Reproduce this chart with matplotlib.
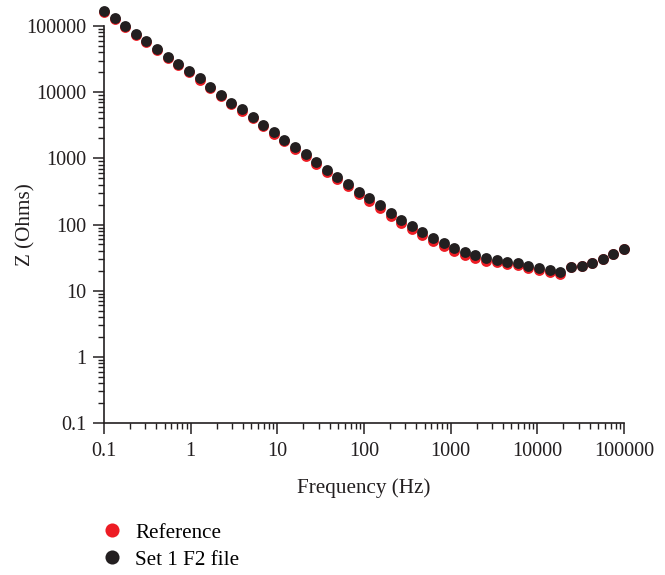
import matplotlib
matplotlib.use("Agg")
import matplotlib.pyplot as plt
from matplotlib.ticker import LogLocator, FuncFormatter, NullFormatter

plt.rcParams['font.family'] = ['Liberation Serif', 'DejaVu Serif']

frequency = [0.1, 0.1326, 0.1758, 0.2330, 0.3089, 0.4095, 0.5429, 0.7197, 0.9541,
             1.265, 1.677, 2.223, 2.947, 3.907, 5.179, 6.866, 9.103,
             12.07, 16.00, 21.21, 28.12, 37.28, 49.42, 65.51, 86.85,
             115.1, 152.6, 202.4, 268.3, 355.7, 471.5, 625.1, 828.7,
             1099, 1456, 1931, 2560, 3393, 4498, 5964, 7906,
             10481, 13895, 18421, 24421, 32375, 42919, 56899, 75431, 100000]

z_set1 = [168500, 130700, 100000, 76500, 58700, 44900, 34400, 26400, 20700,
          16500, 12100, 9160, 6930, 5510, 4260, 3225, 2500,
          1913, 1469, 1151, 881, 674, 528, 405, 314,
          249.5, 195.6, 151.2, 118.5, 96.2, 78.0, 63.4, 53.2,
          44.3, 38.9, 34.3, 30.7, 29.2, 27.5, 26.0, 23.7,
          22.3, 20.6, 19.4, 23.1, 23.9, 26.5, 30.2, 35.9, 42.7]

z_reference = [162800, 126300, 96600, 73900, 56700, 43400, 33200, 25500, 20000,
               15230, 11410, 8640, 6535, 5195, 4017, 3041, 2358,
               1804, 1371, 1074, 822, 629, 493, 378, 293,
               224.8, 176.2, 136.2, 106.8, 86.7, 70.3, 57.1, 47.9,
               39.9, 35.0, 30.9, 27.7, 27.2, 25.7, 24.3, 22.1,
               20.8, 19.2, 18.1, 22.7, 23.5, 26.0, 29.7, 35.3, 42.0]

series_labels = ["Reference", "Set 1 F2 file"]
series_colors = ["#ed1c24", "#231f20"]

fig = plt.figure(figsize=(6.65, 5.75), dpi=100)
ax = fig.add_axes([104/665, 1-423/575, 520/665, 397/575])

ax.plot(frequency, z_reference, 'o', ls='none', color=series_colors[0],
        markersize=7.8, markeredgewidth=0, clip_on=False, zorder=3,
        label=series_labels[0])
ax.plot(frequency, z_set1, 'o', ls='none', color=series_colors[1],
        markersize=7.8, markeredgewidth=0, clip_on=False, zorder=4,
        label=series_labels[1])

ax.set_xscale('log')
ax.set_yscale('log')
ax.set_xlim(0.1, 1e5)
ax.set_ylim(0.1, 1e5)

axis_color = "#231f20"
for s in ['top', 'right']:
    ax.spines[s].set_visible(False)
for s in ['left', 'bottom']:
    ax.spines[s].set_color(axis_color)
    ax.spines[s].set_linewidth(1.2)

fmt = FuncFormatter(lambda v, p: '{:g}'.format(v))
for axis in (ax.xaxis, ax.yaxis):
    axis.set_major_locator(LogLocator(base=10, numticks=20))
    axis.set_minor_locator(LogLocator(base=10, subs=range(2, 10), numticks=100))
    axis.set_major_formatter(fmt)
    axis.set_minor_formatter(NullFormatter())

ax.tick_params(which='major', direction='out', length=8, width=1.1,
               color=axis_color, labelsize=14.6, labelcolor='#231f20')
ax.tick_params(which='minor', direction='out', length=4, width=1.0,
               color=axis_color)
ax.tick_params(axis='x', which='major', pad=5.5)
ax.tick_params(axis='y', which='major', pad=4.5)

ax.set_xlabel('Frequency (Hz)', fontsize=15.2, color='#231f20')
ax.set_ylabel('Z (Ohms)', fontsize=15.2, color='#231f20')
ax.xaxis.set_label_coords(0.5, -(488 - 423) / 397, transform=ax.transAxes)
ax.yaxis.set_label_coords((26 - 104) / 520, 0.5, transform=ax.transAxes)
ax.xaxis.label.set_va('center')
ax.yaxis.label.set_va('center')
ax.yaxis.label.set_ha('center')

fig.legend(loc='upper left', bbox_to_anchor=(101/665, 1-523/575),
           frameon=False, fontsize=15.2, handlelength=1.0, handletextpad=0.62,
           borderpad=0, borderaxespad=0, labelspacing=0.33, markerscale=1.3)

fig.savefig('out.png', dpi=100)
